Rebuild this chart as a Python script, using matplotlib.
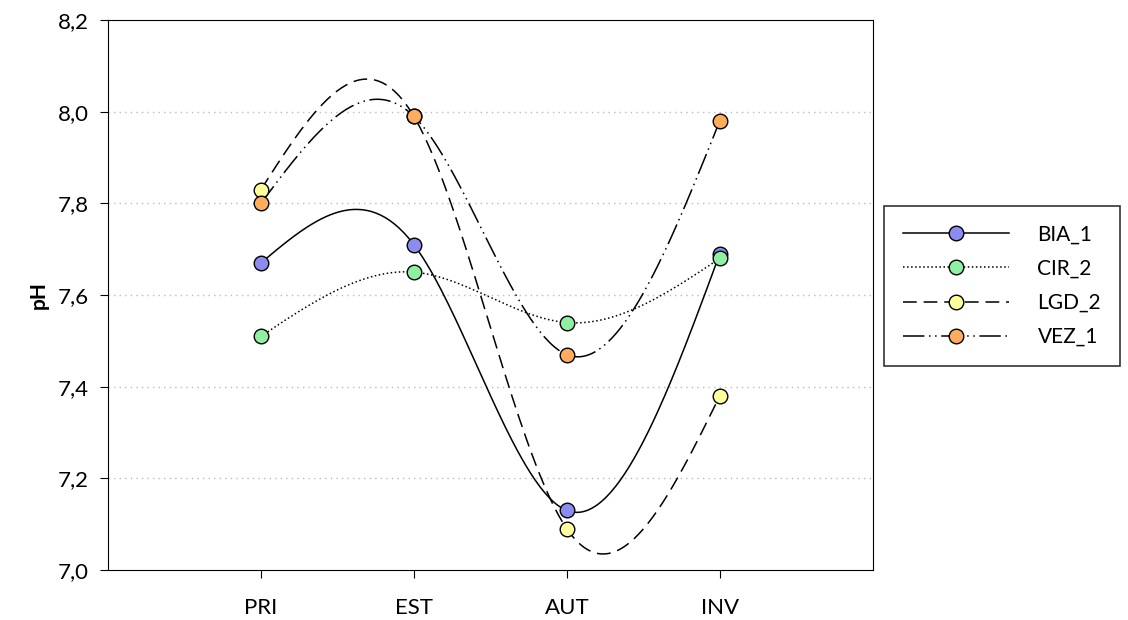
import numpy as np
import matplotlib.pyplot as plt
from matplotlib.lines import Line2D

plt.rcParams['font.family'] = ['Lato', 'DejaVu Sans']

seasons = ['PRI', 'EST', 'AUT', 'INV']
bia_1 = [7.67, 7.71, 7.13, 7.69]
cir_2 = [7.51, 7.65, 7.54, 7.68]
lgd_2 = [7.83, 7.99, 7.09, 7.38]
vez_1 = [7.80, 7.99, 7.47, 7.98]

series = [
    ('BIA_1', bia_1, '-', '#8c8cf0'),
    ('CIR_2', cir_2, ':', '#8ef0a0'),
    ('LGD_2', lgd_2, (0, (9, 4.5)), '#ffff9c'),
    ('VEZ_1', vez_1, (0, (14, 3, 1, 3, 1, 3)), '#ffad5c'),
]


def natural_spline(x, y, n=200):
    # natural cubic spline through the points
    x = np.asarray(x, float)
    y = np.asarray(y, float)
    k = len(x)
    h = np.diff(x)
    A = np.zeros((k, k))
    b = np.zeros(k)
    A[0, 0] = A[-1, -1] = 1
    for i in range(1, k - 1):
        A[i, i - 1] = h[i - 1]
        A[i, i] = 2 * (h[i - 1] + h[i])
        A[i, i + 1] = h[i]
        b[i] = 3 * ((y[i + 1] - y[i]) / h[i] - (y[i] - y[i - 1]) / h[i - 1])
    c = np.linalg.solve(A, b)
    xs = np.linspace(x[0], x[-1], n)
    ys = np.empty_like(xs)
    for j, xv in enumerate(xs):
        i = min(np.searchsorted(x, xv, side='right') - 1, k - 2)
        bi = (y[i + 1] - y[i]) / h[i] - h[i] * (2 * c[i] + c[i + 1]) / 3
        di = (c[i + 1] - c[i]) / (3 * h[i])
        t = xv - x[i]
        ys[j] = y[i] + bi * t + c[i] * t ** 2 + di * t ** 3
    return xs, ys


fig = plt.figure(figsize=(11.28, 6.2), dpi=100)
ax = fig.add_axes([0.0957, 0.0806, 0.678, 0.887])

xpos = np.arange(len(seasons))
for y in [7.2, 7.4, 7.6, 7.8, 8.0]:
    ax.axhline(y, color='#bbbbbb', linestyle=(0, (1, 3)), linewidth=1, zorder=0)

handles = []
for name, vals, ls, col in series:
    xs, ys = natural_spline(xpos, vals)
    ax.plot(xs, ys, color='black', linestyle=ls, linewidth=1.1, zorder=2)
    ax.plot(xpos, vals, 'o', markersize=10.5, markerfacecolor=col,
            markeredgecolor='black', markeredgewidth=1, zorder=3)
    handles.append(Line2D([0], [0], color='black', linestyle=ls, linewidth=1.1,
                          marker='o', markersize=10.5, markerfacecolor=col,
                          markeredgecolor='black', label=name))

ax.set_xlim(-1, 4)
ax.set_ylim(7.0, 8.2)
ax.set_xticks(xpos)
ax.set_xticklabels(seasons)
yt = [7.0, 7.2, 7.4, 7.6, 7.8, 8.0, 8.2]
ax.set_yticks(yt)
ax.set_yticklabels([f'{v:.1f}'.replace('.', ',') for v in yt])
ax.tick_params(direction='out', length=6, labelsize=16, pad=8)
ax.tick_params(axis='x', pad=14)
ax.set_ylabel('pH', fontsize=15, fontweight='bold', labelpad=6)

leg = fig.legend(handles=handles, loc='upper left', bbox_to_anchor=(0.784, 0.668),
                 fontsize=15, frameon=True, fancybox=False, edgecolor='black',
                 handlelength=5.1, handletextpad=1.35, borderpad=0.9,
                 labelspacing=0.68, borderaxespad=0)
leg.get_frame().set_linewidth(1.2)

plt.savefig('out.png', dpi=100)
